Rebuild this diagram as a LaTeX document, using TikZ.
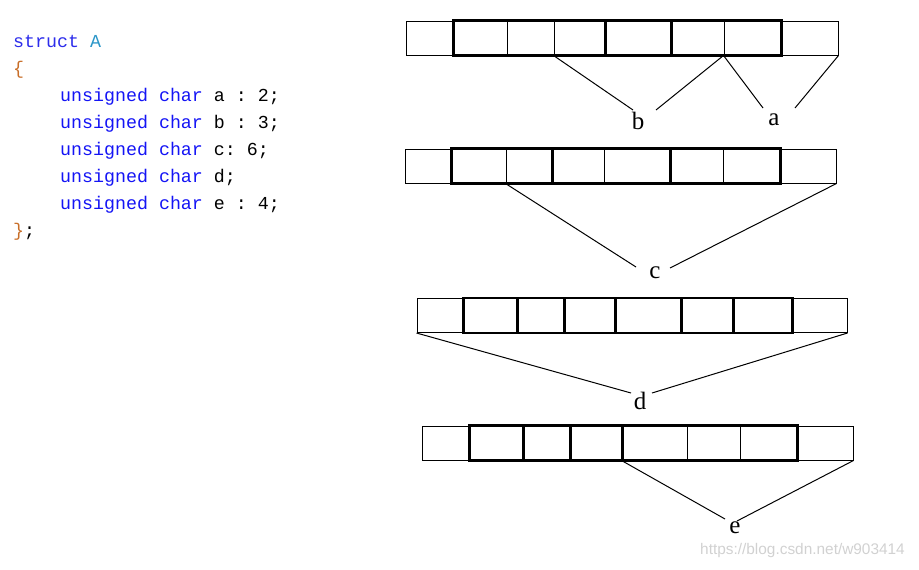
\documentclass[tikz,border=0pt]{standalone}
\usepackage{fontspec}
\setmainfont{Liberation Serif}
\setmonofont{Liberation Mono}
\newfontfamily\wmfont{Liberation Sans}
\usepackage{tikz}
\usetikzlibrary{positioning}
\definecolor{kwstruct}{RGB}{45,45,235}
\definecolor{kwtype}{RGB}{20,20,245}
\definecolor{clsname}{RGB}{43,150,200}
\definecolor{brace}{RGB}{200,110,40}
\tikzstyle{cell} = [rectangle, draw=black, line width=1pt, minimum height=34pt, inner sep=0pt]
\tikzstyle{group} = [draw=black, line width=2.4pt]
\tikzstyle{link} = [draw=black, line width=1pt]
\tikzset{
 code/.style
  = {anchor=base west, inner sep=0pt, font=\fontsize{18.3}{27}\ttfamily},
 field/.style
  = {inner sep=0pt, font=\fontsize{25}{28}\selectfont},
 wmark/.style
  = {anchor=west, inner sep=0pt, text=black!18, font=\fontsize{15.4}{18}\wmfont},
}

\begin{document}
\begin{tikzpicture}[x=1pt, y=-1pt]
\useasboundingbox (0,0) rectangle (919,570);

% Struct source
\node[code] (l1) at (13,47) {\textcolor{kwstruct}{struct} \textcolor{clsname}{A}};
\node[code] (l2) at (13,74) {\textcolor{brace}{\{}};
\node[code] (l3) at (60,101) {\textcolor{kwtype}{unsigned char} a : 2;};
\node[code] (l4) at (60,128) {\textcolor{kwtype}{unsigned char} b : 3;};
\node[code] (l5) at (60,155) {\textcolor{kwtype}{unsigned char} c: 6;};
\node[code] (l6) at (60,182) {\textcolor{kwtype}{unsigned char} d;};
\node[code] (l7) at (60,209) {\textcolor{kwtype}{unsigned char} e : 4;};
\node[code] (l8) at (13,236) {\textcolor{brace}{\}};};

% Row 1: a and b
\foreach \l/\r [count=\i] in {406/454,454/507,507/554,554/606,606/671,671/724,724/781,781/838}
  \node[cell, minimum width=\r-\l] (r1c\i) at ({(\l+\r)/2},38) {};
\draw[group] (r1c2.north west) rectangle (r1c7.south east);
\draw[group] (r1c5.north west) rectangle (r1c5.south east);
\node[field] (b) at (638,121) {b};
\node[field] (a) at (774,120) {a};
\coordinate (bl) at (633,110);
\coordinate (br) at (656,110);
\coordinate (al) at (763,108);
\coordinate (ar) at (795,108);
\draw[link] (r1c4.south west) -- (bl);
\draw[link] (r1c7.south west) -- (br);
\draw[link] (r1c7.south west) -- (al);
\draw[link] (r1c8.south east) -- (ar);

% Row 2: c
\foreach \l/\r [count=\i] in {405/452,452/506,506/553,553/604,604/670,670/723,723/780,780/836}
  \node[cell, minimum width=\r-\l] (r2c\i) at ({(\l+\r)/2},166) {};
\draw[group] (r2c2.north west) rectangle (r2c7.south east);
\draw[group] (r2c4.north west) rectangle (r2c5.south east);
\node[field] (c) at (655,273) {c};
\coordinate (cl) at (636,267);
\coordinate (cr) at (670,268);
\draw[link] (r2c3.south west) -- (cl);
\draw[link] (r2c8.south east) -- (cr);

% Row 3: d
\foreach \l/\r [count=\i] in {417/464,464/518,518/565,565/616,616/682,682/734,734/792,792/847}
  \node[cell, minimum width=\r-\l] (r3c\i) at ({(\l+\r)/2},315.5) {};
\draw[group] (r3c2.north west) rectangle (r3c7.south east);
\foreach \i in {3,...,7}
  \draw[group] (r3c\i.north west) -- (r3c\i.south west);
\node[field] (d) at (640,401) {d};
\coordinate (dl) at (631,393);
\coordinate (dr) at (652,393);
\draw[link] (r3c1.south west) -- (dl);
\draw[link] (r3c8.south east) -- (dr);

% Row 4: e
\foreach \l/\r [count=\i] in {422/470,470/524,524/571,571/622,622/687,687/740,740/797,797/853}
  \node[cell, minimum width=\r-\l] (r4c\i) at ({(\l+\r)/2},443) {};
\draw[group] (r4c2.north west) rectangle (r4c7.south east);
\draw[group] (r4c4.north west) rectangle (r4c4.south east);
\draw[group] (r4c3.north west) -- (r4c3.south west);
\node[field] (e) at (735,528) {e};
\coordinate (el) at (725,519);
\coordinate (er) at (737,521);
\draw[link] (r4c5.south west) -- (el);
\draw[link] (r4c8.south east) -- (er);

% Watermark
\node[wmark] (wm) at (700,551) {https://blog.csdn.net/w903414};

\end{tikzpicture}
\end{document}
